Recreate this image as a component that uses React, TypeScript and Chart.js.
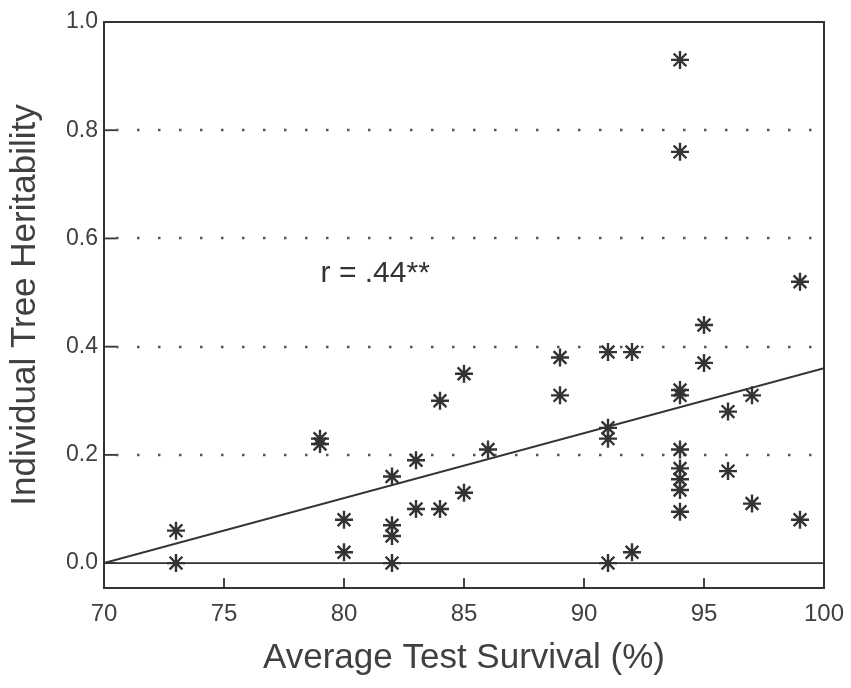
import React, { useEffect, useRef } from "react";
import { Chart, registerables } from "chart.js";

Chart.register(...registerables);

// Average test survival (%) for each test
const survival = [
  73, 73, 79, 79, 80, 80, 82, 82, 82, 82, 83, 83, 84, 84, 85, 85, 86, 89, 89,
  91, 91, 91, 91, 92, 92, 94, 94, 94, 94, 94, 94, 94, 94, 94, 95, 95, 96, 96,
  97, 97, 99, 99,
];
// Individual tree heritability for each test
const heritability = [
  0.06, 0.0, 0.23, 0.22, 0.08, 0.02, 0.16, 0.07, 0.05, 0.0, 0.19, 0.1, 0.3,
  0.1, 0.35, 0.13, 0.21, 0.38, 0.31, 0.39, 0.25, 0.23, 0.0, 0.39, 0.02, 0.93,
  0.76, 0.32, 0.31, 0.21, 0.175, 0.155, 0.135, 0.095, 0.44, 0.37, 0.28, 0.17,
  0.31, 0.11, 0.52, 0.08,
];

// Regression line end points
const regressionX = [70, 100];
const regressionY = [0.0, 0.36];

// Zero reference line
const zeroX = [70, 100];
const zeroY = [0, 0];

const xTickValues = [70, 75, 80, 85, 90, 95, 100];
const yTickValues = [0.0, 0.2, 0.4, 0.6, 0.8, 1.0];
const gridValues = [0.2, 0.4, 0.6, 0.8];

const xTitle = "Average Test Survival (%)";
const yTitle = "Individual Tree Heritability";
const annotationText = "r = .44**";
const annotationX = 81.3;
const annotationY = 0.535;

const INK = "#333333";
const TEXT = "#404040";
const FONT = "'Liberation Sans', Arial, Helvetica, sans-serif";

const framePlugin = {
  id: "framePlugin",
  beforeDatasetsDraw(chart: any) {
    const { ctx, chartArea: a, scales } = chart;
    const y = scales.y;
    ctx.save();
    ctx.strokeStyle = "#555555";
    ctx.lineWidth = 2.5;
    ctx.setLineDash([2.5, 18.5]);
    for (const v of gridValues) {
      const py = Math.round(y.getPixelForValue(v));
      ctx.beginPath();
      ctx.moveTo(a.left + 12, py);
      ctx.lineTo(a.right, py);
      ctx.stroke();
    }
    ctx.restore();
  },
  afterDatasetsDraw(chart: any) {
    const { ctx, chartArea: a, scales } = chart;
    const x = scales.x;
    const y = scales.y;
    ctx.save();
    ctx.strokeStyle = INK;
    ctx.lineWidth = 2;
    ctx.setLineDash([]);
    ctx.strokeRect(a.left, a.top, a.right - a.left, a.bottom - a.top);
    // inward ticks
    ctx.lineWidth = 1.8;
    for (const v of xTickValues) {
      const px = x.getPixelForValue(v);
      if (Math.abs(px - a.left) < 2 || Math.abs(px - a.right) < 2) continue;
      ctx.beginPath();
      ctx.moveTo(px, a.bottom);
      ctx.lineTo(px, a.bottom - 10);
      ctx.stroke();
    }
    for (const v of yTickValues) {
      const py = y.getPixelForValue(v);
      if (Math.abs(py - a.top) < 2) continue;
      ctx.beginPath();
      ctx.moveTo(a.left, py);
      ctx.lineTo(a.left + 12, py);
      ctx.stroke();
    }
    // annotation
    ctx.fillStyle = INK;
    ctx.font = `30px ${FONT}`;
    ctx.textAlign = "center";
    ctx.textBaseline = "middle";
    ctx.fillText(
      annotationText,
      x.getPixelForValue(annotationX),
      y.getPixelForValue(annotationY)
    );
    ctx.restore();
  },
};

export default function App() {
  const canvasRef = useRef<HTMLCanvasElement | null>(null);

  useEffect(() => {
    document.body.style.margin = "0";
    document.body.style.background = "#ffffff";
    const canvas = canvasRef.current;
    if (!canvas) return;

    const points = survival.map((s, i) => ({ x: s, y: heritability[i] }));
    const regression = regressionX.map((v, i) => ({ x: v, y: regressionY[i] }));
    const zero = zeroX.map((v, i) => ({ x: v, y: zeroY[i] }));

    const chart = new Chart(canvas, {
      type: "scatter",
      data: {
        datasets: [
          {
            label: "zero",
            data: zero,
            showLine: true,
            borderColor: INK,
            borderWidth: 1.6,
            pointRadius: 0,
            fill: false,
          },
          {
            label: "regression",
            data: regression,
            showLine: true,
            borderColor: INK,
            borderWidth: 2,
            pointRadius: 0,
            fill: false,
          },
          {
            label: "tests",
            data: points,
            pointStyle: "star",
            pointRadius: 9,
            pointBorderWidth: 2.4,
            borderColor: INK,
            backgroundColor: "rgba(0,0,0,0)",
            showLine: false,
          } as any,
        ],
      },
      options: {
        animation: false,
        responsive: false,
        devicePixelRatio: 1,
        layout: { padding: { top: 22, right: 27, left: 0, bottom: 0 } },
        plugins: {
          legend: { display: false },
          tooltip: { enabled: false },
        },
        scales: {
          x: {
            type: "linear",
            position: "bottom",
            min: 70,
            max: 100,
            afterBuildTicks: (s: any) => {
              s.ticks = xTickValues.map((v) => ({ value: v }));
            },
            afterFit: (s: any) => {
              s.height = 100;
              s.paddingLeft = 0;
              s.paddingRight = 0;
            },
            grid: { display: false, drawTicks: false },
            border: { display: false },
            ticks: {
              autoSkip: false,
              maxRotation: 0,
              padding: 12,
              color: TEXT,
              font: { family: FONT, size: 24 },
              callback: (v: any) => String(v),
            },
            title: {
              display: true,
              text: xTitle,
              color: TEXT,
              font: { family: FONT, size: 35 },
              padding: { top: 0, bottom: 9 },
            },
          },
          y: {
            type: "linear",
            min: -0.046,
            max: 1.0,
            afterBuildTicks: (s: any) => {
              s.ticks = yTickValues.map((v) => ({ value: v }));
            },
            afterFit: (s: any) => {
              s.width = 104;
              s.paddingTop = 0;
              s.paddingBottom = 0;
            },
            grid: { display: false, drawTicks: false },
            border: { display: false },
            ticks: {
              autoSkip: false,
              padding: 6,
              color: TEXT,
              font: { family: FONT, size: 23 },
              callback: (v: any) => Number(v).toFixed(1),
            },
            title: {
              display: true,
              text: yTitle,
              color: TEXT,
              font: { family: FONT, size: 35 },
              padding: { top: 4, bottom: 0 },
            },
          },
        },
      },
      plugins: [framePlugin],
    });

    return () => {
      chart.destroy();
    };
  }, []);

  return (
    <div style={{ width: 851, height: 688, background: "#ffffff" }}>
      <canvas ref={canvasRef} width={851} height={688} />
    </div>
  );
}
